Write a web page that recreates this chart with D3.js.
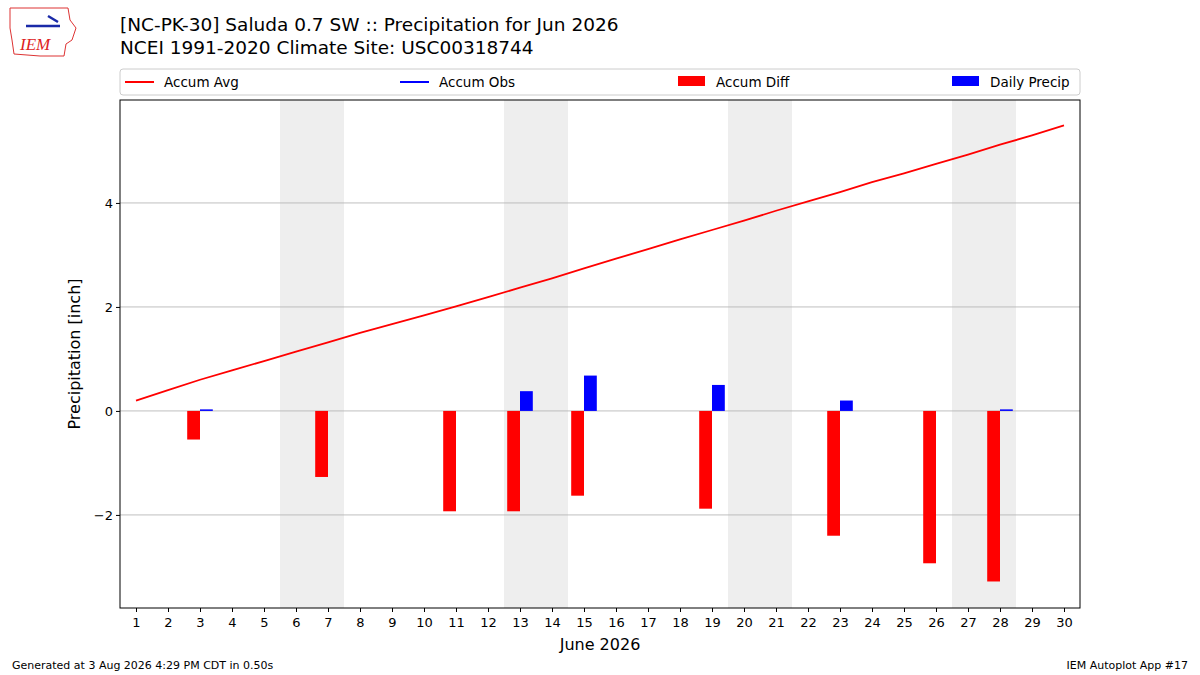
<!DOCTYPE html>
<html><head><meta charset="utf-8">
<script src="https://cdn.jsdelivr.net/npm/d3@7"></script>
<style>body{margin:0;background:#fff;font-family:"DejaVu Sans",sans-serif;}</style>
</head><body>
<svg id="chart" width="1200" height="675"></svg>
<script>
var days = d3.range(1, 31);
var accumAvg = [0.2,0.4,0.6,0.78,0.96,1.14,1.32,1.5,1.67,1.84,2.01,2.19,2.37,2.55,2.74,2.93,3.11,3.3,3.48,3.66,3.85,4.03,4.21,4.4,4.57,4.75,4.93,5.12,5.3,5.49];
var precipDays = [3, 13, 15, 19, 23, 28];
var precipVals = [0.03, 0.38, 0.68, 0.5, 0.2, 0.03];
var diffDays = [3, 7, 11, 13, 15, 19, 23, 26, 28];
var diffVals = [-0.55, -1.27, -1.93, -1.93, -1.63, -1.88, -2.4, -2.93, -3.28];
var weekends = [[5.5, 7.5], [12.5, 14.5], [19.5, 21.5], [26.5, 28.5]];
var yTicks = [-2, 0, 2, 4];

var svg = d3.select("#chart");
var pL = 120, pR = 1080, pT = 100, pB = 608;

var x = d3.scaleLinear().domain([0.5, 30.5]).range([pL, pR]);
var y = d3.scaleLinear().domain([-3.79, 5.98]).range([pB, pT]);

// weekend shading
svg.selectAll("rect.wk").data(weekends).enter().append("rect")
    .attr("x", function(d){return x(d[0]);})
    .attr("width", function(d){return x(d[1]) - x(d[0]);})
    .attr("y", pT).attr("height", pB - pT)
    .attr("fill", "#eeeeee");

// grid
svg.selectAll("line.grid").data(yTicks).enter().append("line")
    .attr("x1", pL).attr("x2", pR)
    .attr("y1", function(d){return y(d);}).attr("y2", function(d){return y(d);})
    .attr("stroke", "#b0b0b0").attr("stroke-width", 0.8);

// bars
svg.selectAll("rect.diff").data(diffDays).enter().append("rect")
    .attr("x", function(d){return x(d - 0.4);})
    .attr("width", x(0.9) - x(0.5))
    .attr("y", y(0))
    .attr("height", function(d, i){return y(diffVals[i]) - y(0);})
    .attr("fill", "red");
svg.selectAll("rect.prec").data(precipDays).enter().append("rect")
    .attr("x", function(d){return x(d);})
    .attr("width", x(0.9) - x(0.5))
    .attr("y", function(d, i){return y(precipVals[i]);})
    .attr("height", function(d, i){return y(0) - y(precipVals[i]);})
    .attr("fill", "blue");

// accum avg line
svg.append("path").datum(accumAvg)
    .attr("d", d3.line().x(function(d, i){return x(days[i]);}).y(function(d){return y(d);}))
    .attr("fill", "none").attr("stroke", "red").attr("stroke-width", 1.8);

// frame
svg.append("rect").attr("x", pL).attr("y", pT).attr("width", pR - pL).attr("height", pB - pT)
    .attr("fill", "none").attr("stroke", "#000").attr("stroke-width", 1);

// axes
var xAxis = svg.append("g").attr("transform", "translate(0," + pB + ")")
    .call(d3.axisBottom(x).tickValues(days).tickSize(4).tickSizeOuter(0));
var yAxis = svg.append("g").attr("transform", "translate(" + pL + ",0)")
    .call(d3.axisLeft(y).tickValues(yTicks).tickSize(4).tickSizeOuter(0)
        .tickFormat(function(d){return d < 0 ? "\u2212" + Math.abs(d) : d;}));
[xAxis, yAxis].forEach(function(g){
    g.select(".domain").remove();
    g.selectAll("text").attr("font-size", 13).attr("font-family", "DejaVu Sans").attr("fill", "#000");
});
xAxis.selectAll("text").attr("dy", "0.9em");

svg.append("text").attr("x", 600).attr("y", 650).attr("text-anchor", "middle")
    .attr("font-size", 16).text("June 2026");
svg.append("text").attr("transform", "translate(80," + ((pT + pB) / 2) + ") rotate(-90)")
    .attr("text-anchor", "middle").attr("font-size", 16).text("Precipitation [inch]");

// titles
svg.append("text").attr("x", 120).attr("y", 31).attr("font-size", 18.5).text("[NC-PK-30] Saluda 0.7 SW :: Precipitation for Jun 2026");
svg.append("text").attr("x", 120).attr("y", 54).attr("font-size", 18.5).text("NCEI 1991-2020 Climate Site: USC00318744");

// legend
svg.append("rect").attr("x", 120).attr("y", 69).attr("width", 960).attr("height", 26).attr("rx", 3)
    .attr("fill", "#fff").attr("stroke", "#ccc");
var legend = [
    {t: "Accum Avg", c: "red", line: true, x: 125},
    {t: "Accum Obs", c: "blue", line: true, x: 400},
    {t: "Accum Diff", c: "red", line: false, x: 678},
    {t: "Daily Precip", c: "blue", line: false, x: 952}
];
legend.forEach(function(l){
    if (l.line) svg.append("line").attr("x1", l.x).attr("x2", l.x + 29).attr("y1", 82).attr("y2", 82)
        .attr("stroke", l.c).attr("stroke-width", 2);
    else svg.append("rect").attr("x", l.x).attr("y", 76).attr("width", 27).attr("height", 10).attr("fill", l.c);
    svg.append("text").attr("x", l.x + (l.line ? 39 : 38)).attr("y", 87).attr("font-size", 13.5).text(l.t);
});

// logo (approximation)
var logo = svg.append("g");
logo.append("path").attr("d", "M10,8 L68,8 L70,20 L76,28 L72,40 L66,44 L64,56 L40,56 L14,54 L12,40 L10,28 Z")
    .attr("fill", "#fff").attr("stroke", "#d33").attr("stroke-width", 1);
logo.append("path").attr("d", "M26,26 L60,26 M48,16 L58,22").attr("stroke", "#1a2aa8").attr("stroke-width", 2.5).attr("fill", "none");
logo.append("text").attr("x", 20).attr("y", 50).attr("font-family", "Liberation Serif").attr("font-style", "italic")
    .attr("font-size", 17).attr("fill", "#d22").text("IEM");

// footer
svg.append("text").attr("x", 12).attr("y", 669).attr("font-size", 11).text("Generated at 3 Aug 2026 4:29 PM CDT in 0.50s");
svg.append("text").attr("x", 1188).attr("y", 669).attr("text-anchor", "end").attr("font-size", 11).text("IEM Autoplot App #17");
</script>
</body></html>
